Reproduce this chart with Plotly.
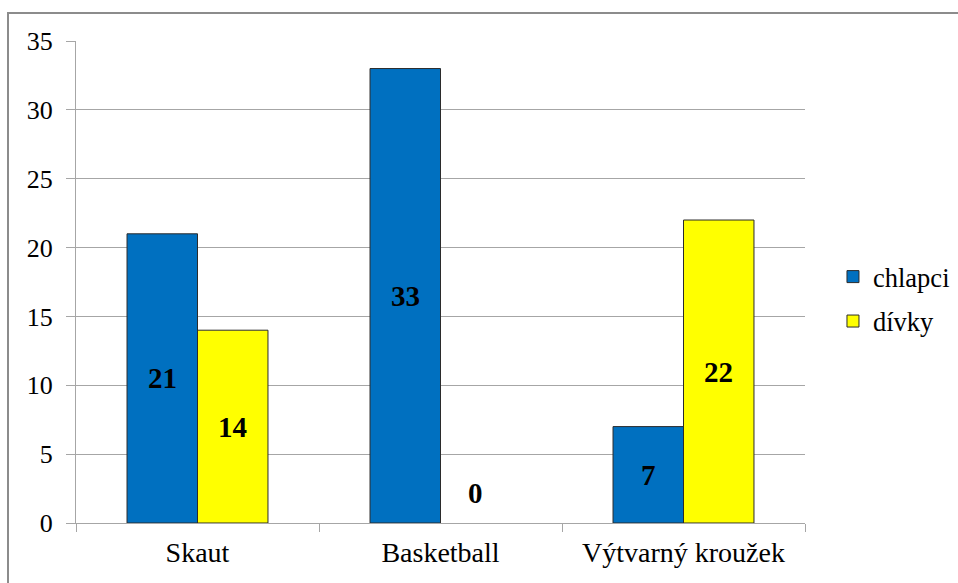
import plotly.graph_objects as go

categories = ["Skaut", "Basketball", "Výtvarný kroužek"]
chlapci = [21, 33, 7]
divky = [14, 0, 22]
y_ticks = [0, 5, 10, 15, 20, 25, 30, 35]

serif = "Liberation Serif"
grid = "#a6a6a6"

fig = go.Figure()
fig.add_trace(go.Bar(name="chlapci", x=categories, y=chlapci, legendgroup="a",
                     marker=dict(color="#0070C0", line=dict(color="#2b2b2b", width=[0 if v == 0 else 1 for v in chlapci]))))
fig.add_trace(go.Bar(name="dívky", x=categories, y=divky, legendgroup="b",
                     marker=dict(color="#FFFF00", line=dict(color="#2b2b2b", width=[0 if v == 0 else 1 for v in divky]))))

# data labels centred in bars
for i, c in enumerate(categories):
    for vals, off in ((chlapci, -35), (divky, 35)):
        v = vals[i]
        fig.add_annotation(x=c, y=v / 2, text="<b>%d</b>" % v, showarrow=False, xshift=off,
                           yshift=30 if v == 0 else 0,
                           font=dict(family=serif, size=29, color="black"))

fig.update_layout(
    width=958, height=583,
    margin=dict(l=76, r=153, t=41, b=60),
    plot_bgcolor="white", paper_bgcolor="white",
    barmode="group", bargap=0.42, bargroupgap=0,
    font=dict(family=serif, size=26, color="black"),
    showlegend=True,
    legend=dict(xref="container", x=0.8695, y=0.465, xanchor="left", yanchor="middle",
                font=dict(family=serif, size=26.5, color="black"),
                traceorder="grouped", tracegroupgap=7, bgcolor="rgba(0,0,0,0)"),
    xaxis=dict(type="category", tickson="boundaries", ticks="outside", ticklen=8, tickcolor=grid,
               showline=True, linecolor=grid, linewidth=1, showgrid=False,
               tickfont=dict(family=serif, size=28, color="black"), ticklabelstandoff=4),
    yaxis=dict(range=[0, 35], tickvals=y_ticks, ticks="outside", ticklen=9, tickcolor=grid,
               showline=True, linecolor=grid, linewidth=1, showgrid=True, gridcolor=grid, gridwidth=1,
               zeroline=False, tickfont=dict(family=serif, size=26, color="black"), ticklabelstandoff=8),
)
fig.add_shape(type="rect", xref="paper", yref="paper",
              x0=-68/729, x1=1 + 200/729, y0=-100/482, y1=1 + 28/482,
              line=dict(color="#8c8c8c", width=2), fillcolor="rgba(0,0,0,0)", layer="below")

fig.write_html("out.html")
